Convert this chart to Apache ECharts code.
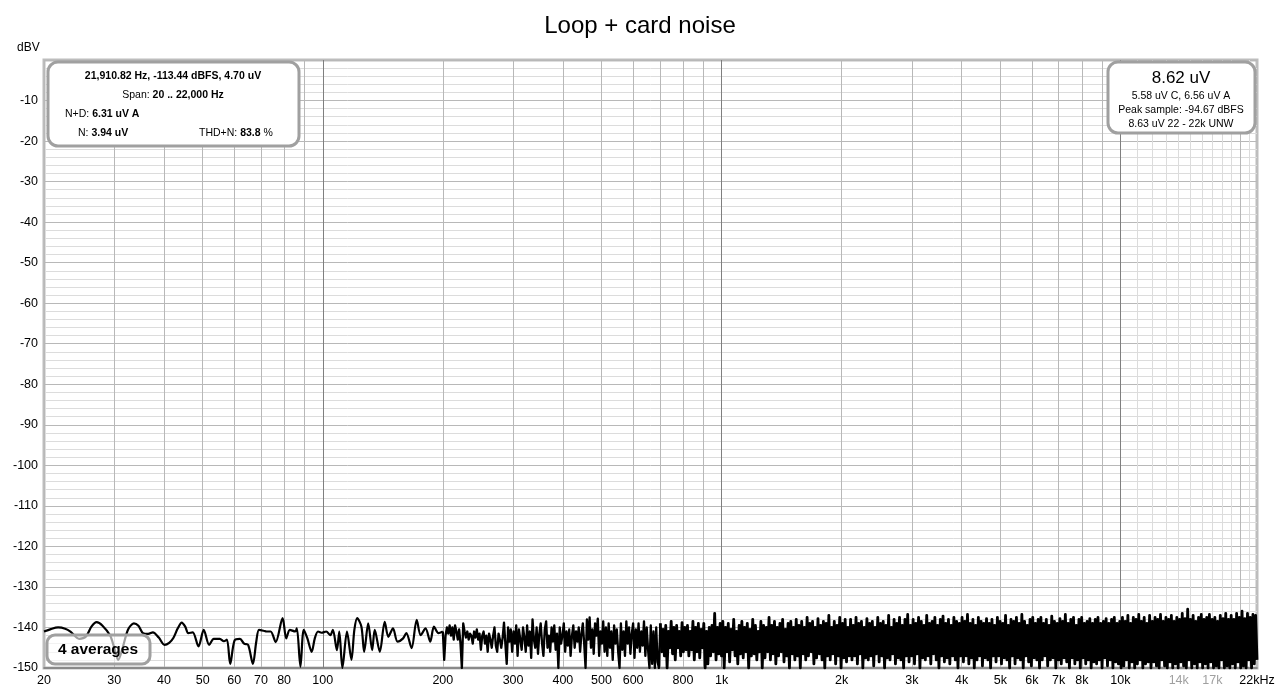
<!DOCTYPE html>
<html><head><meta charset="utf-8">
<script src="https://cdn.jsdelivr.net/npm/echarts@6/dist/echarts.min.js"></script>
<style>html,body{margin:0;padding:0;background:#fff}#c{width:1280px;height:692px}</style>
</head><body><div id="c"></div>
<script>
// ---------- data ----------
const chartTitle = 'Loop + card noise';
const yUnit = 'dBV';
const yMin = -150, yMax = 0, yStep = 10;
const xMinHz = 20, xMaxHz = 22000;

// low-frequency part of the trace: frequency (Hz) and level (dBV)
const lowFreqs = [20, 20.8, 21.7, 22.6, 23.3, 24.5, 25.5, 26.3, 27.1, 28.0, 29.3, 30.0, 30.7, 31.5, 32.5, 33.6, 34.5, 35.4, 36.5, 37.5,
  38.8, 40.1, 41.2, 42.2, 43.3, 44.3, 45.2, 46.0, 47.2, 48.8, 50.3, 51.9, 53.3, 55.2, 56.5, 57.5, 58.6, 60.1, 62.0, 63.5,
  65.0, 66.8, 68.1, 69.2, 71.0, 72.3, 74.0, 76.2, 79.3, 81.0, 82.7, 85.3, 86.1, 87.9, 89.6, 91.5, 93.8, 95.5, 97.3, 99.3,
  102, 104.5, 106, 108.5, 110, 112, 115, 118, 120, 122, 125, 127, 130, 133, 135, 139, 143, 146, 150, 154,
  159, 162, 167, 172, 176, 181, 186, 190, 195, 200];
const lowLevels = [-141.0, -140.4, -140.0, -140.3, -141.0, -142.8, -142.2, -139.8, -138.7, -139.5, -142.0, -145.0, -148.0, -145.0, -140.5, -139.0, -139.6, -141.4, -141.6, -141.2,
  -142.5, -144.3, -143.8, -142.6, -140.2, -138.8, -139.8, -141.4, -141.2, -144.7, -140.6, -144.3, -142.8, -142.8, -143.4, -143.0, -149.0, -143.2, -142.8, -144.0,
  -144.3, -149.0, -143.6, -140.6, -140.8, -141.0, -141.0, -143.6, -137.7, -142.7, -140.6, -141.0, -140.2, -149.7, -140.6, -142.7, -146.0, -142.7, -141.0, -141.3,
  -141.0, -141.9, -140.6, -145.6, -141.0, -150.0, -141.0, -148.0, -140.6, -137.7, -139.8, -146.0, -139.0, -145.6, -140.6, -146.0, -138.6, -142.3, -140.2, -143.5,
  -142.7, -141.4, -145.1, -138.1, -141.9, -140.2, -143.5, -139.8, -141.4, -141.0];

// dense part of the trace, 200 Hz .. 22 kHz, points evenly spaced on the log-frequency axis (dBV)
const denseStartHz = 200, denseEndHz = 22000;
const denseLevels = [
  -141, -148, -142, -140, -141.5, -139.5, -142, -140, -143, -139.5, -141, -143, -140.5, -144, -150, -139, -141, -142.5, -141, -143,
  -141.5, -142, -144, -141, -142.5, -140.5, -143, -141.5, -145.5, -142, -141, -144, -142, -146, -141.5, -143, -145, -142, -140, -144.5,
  -146, -141.5, -143, -145, -142.5, -138.8, -144, -149, -140, -143.5, -140.5, -146, -141, -144, -139.5, -147, -140.5, -143, -145.5, -140,
  -142.5, -146, -139.5, -144.5, -141, -147.5, -138, -143, -145, -140, -146.5, -141.5, -139, -144, -147, -140.5, -138.5, -145, -142, -146,
  -140, -143.5, -139.5, -145.5, -141.5, -150, -140, -144, -142, -139, -146, -141, -144.5, -140.5, -147, -142, -139.5, -145, -141, -143.5,
  -140, -146, -141.5, -139, -144, -150, -138, -143, -137.5, -145, -140.5, -146.5, -139, -142, -137.8, -147, -141, -144, -138.5, -146,
  -140, -147, -139, -145, -141, -148, -139.5, -144, -140.5, -146, -150, -139, -145.5, -141, -147, -138.5, -144, -140, -146.5, -141.5,
  -139, -147.5, -140.5, -145, -139, -146, -141, -144.5, -138.5, -147, -140, -145.5, -150, -139.5, -149, -141, -150, -140, -148.5, -150,
  -139, -146, -140.5, -147, -139.5, -150, -141, -145, -138.5, -146.5, -140, -148, -139.5, -145, -141, -147, -138.8, -146, -140, -145.5,
  -139.5, -147, -141, -145.5, -138.5, -148, -140, -146, -139, -147.5, -140.5, -145, -139, -150, -141, -149, -140, -147, -139.5, -146,
  -136.5, -148, -140, -146.5, -139, -147, -138.5, -150, -140, -146, -139, -148.5, -140.5, -145.5, -138, -147, -141, -149, -139.5, -146.5,
  -138.5, -147.5, -140, -146, -139, -150, -140.5, -147, -138, -146.5, -139.5, -148, -141, -146, -138.5, -150, -139.5, -147.5, -140, -146,
  -137.5, -148, -139.5, -146.5, -138.5, -149, -140, -147, -139, -146, -138, -148.5, -140.5, -147, -139, -150, -138.5, -146.5, -140, -148,
  -138, -147, -139.5, -150, -138.5, -146.5, -140, -148, -137.5, -147, -139, -146, -138.5, -149, -140, -147.5, -137.8, -146.5, -139.5, -148,
  -138.5, -150, -139, -147, -137, -148, -140, -146.5, -138.5, -149, -139.5, -147, -137.5, -150, -139, -147.5, -138, -148.5, -140, -147,
  -138, -148, -139.5, -147, -137.5, -149, -139, -146.5, -138.5, -150, -140, -147.5, -137.8, -148, -139, -147, -138.5, -149.5, -140, -146.5,
  -137.5, -148.5, -139, -147, -138.5, -150, -139.5, -147.5, -137, -148, -140, -146.5, -138, -149, -139, -147.5, -137.5, -148, -139.5, -150,
  -138, -147, -136.8, -148.5, -139.5, -147, -138, -149, -139, -146.5, -137.5, -150, -138.5, -147.5, -139.5, -148, -137, -147, -139, -149,
  -138.5, -146.5, -137.5, -148, -139.5, -150, -138, -147, -137.2, -148.5, -139, -147.5, -138, -149, -139.5, -147, -137.5, -148, -138.5, -150,
  -139, -147, -137.5, -148.5, -138.5, -147, -136.8, -149, -139, -147.5, -138, -150, -139.5, -148, -137.5, -147, -138.5, -149.5, -139, -147.5,
  -137.8, -148, -139, -150, -138, -147, -139.5, -148.5, -137.5, -147, -138.5, -149, -139, -147.5, -137, -148, -139.5, -150, -138, -147,
  -138.5, -149, -137.5, -147.5, -139, -148, -136.8, -150, -138.5, -147, -139.5, -148.5, -138, -149.5, -137.5, -147.5, -139, -148, -138, -150,
  -137.5, -148, -139, -147, -138, -149.5, -139.5, -148, -137.2, -147.5, -138.5, -150, -139, -148, -137.8, -149, -138.5, -147.5, -136.8, -148.5,
  -139, -150, -138, -147.5, -137.5, -149, -139.5, -148, -138, -150, -137.5, -147.5, -139, -149, -138.5, -148, -137.8, -150, -139, -148.5,
  -138, -149, -137.5, -148, -139, -150, -138.5, -147.5, -137.8, -149.5, -139, -148, -138, -150, -137.5, -148.5, -139, -149, -138.5, -150,
  -137.5, -149.5, -138.5, -148, -137, -150, -139, -148.5, -137.5, -150, -138, -149, -136.8, -148, -138.5, -150, -137.5, -149, -139, -148.5,
  -137, -150, -138.5, -148.5, -137.5, -149.5, -138, -150, -136.8, -148, -138.5, -149.5, -137.5, -150, -138, -148.5, -137, -150, -138.5, -149,
  -137.5, -150, -138, -148.5, -136.5, -149.5, -137.8, -150, -135.5, -148, -138, -150, -137, -149, -138.5, -150, -137.5, -148.5, -136.8, -150,
  -138, -149, -137.5, -150, -136.8, -148.5, -138, -150, -137.5, -149.5, -138.5, -150, -137, -148, -137.8, -150, -136.5, -149.5, -138, -150,
  -137, -149, -138, -150, -136.5, -148.5, -137.5, -150, -136, -149.5, -137.8, -150, -136.5, -148, -137.5, -150, -136.8, -149, -137, -148
];

// x axis labels
const xLabelValues = [20, 30, 40, 50, 60, 70, 80, 100, 200, 300, 400, 500, 600, 800, 1000, 2000, 3000, 4000, 5000, 6000, 7000, 8000, 10000, 14000, 17000, 22000];
const xLabelTexts = ['20', '30', '40', '50', '60', '70', '80', '100', '200', '300', '400', '500', '600', '800', '1k', '2k', '3k', '4k', '5k', '6k', '7k', '8k', '10k', '14k', '17k', '22kHz'];
const xLabelGray = ['14k', '17k'];

// vertical grid lines
const gridDecadeHz = [100, 1000, 10000];
const gridMediumHz = [20, 30, 40, 50, 60, 70, 80, 90, 200, 300, 400, 500, 600, 700, 800, 900, 2000, 3000, 4000, 5000, 6000, 7000, 8000, 9000, 20000];
const gridFineHz = [11000, 12000, 13000, 14000, 15000, 16000, 17000, 18000, 19000, 21000];

// info box texts
const cursorText = '21,910.82 Hz, -113.44 dBFS, 4.70 uV';
const spanLabel = 'Span: ', spanValue = '20 .. 22,000 Hz';
const ndLabel = 'N+D: ', ndValue = '6.31 uV A';
const nLabel = 'N: ', nValue = '3.94 uV';
const thdLabel = 'THD+N: ', thdValue = '83.8', thdUnit = ' %';
const rmsMain = '8.62 uV';
const rmsLines = ['5.58 uV C, 6.56 uV A', 'Peak sample: -94.67 dBFS', '8.63 uV 22 - 22k UNW'];
const averagesText = '4 averages';

// ---------- build ----------
const FONT = '"Liberation Sans", Arial, Helvetica, sans-serif';
const lowData = lowFreqs.map((f, i) => [f, lowLevels[i]]);
const nDense = denseLevels.length;
const denseData = denseLevels.map((v, i) => [denseStartHz * Math.pow(denseEndHz / denseStartHz, i / (nDense - 1)), v]);
const splitHz = 700;
const splitIdx = denseData.findIndex(p => p[0] >= splitHz);
const denseMid = denseData.slice(0, splitIdx + 1);
const denseHigh = denseData.slice(splitIdx);

function xAxisLayer(opts) {
  return Object.assign({
    type: 'log', logBase: 10, min: xMinHz, max: xMaxHz, gridIndex: 0, position: 'bottom',
    axisLine: { show: false }, axisLabel: { show: false }, axisTick: { show: false },
    splitLine: { show: false }
  }, opts);
}
const richSmall = {
  n: { fontSize: 10.5, fontFamily: FONT, color: '#000' },
  b: { fontSize: 10.5, fontWeight: 'bold', fontFamily: FONT, color: '#000' }
};

const chart = echarts.init(document.getElementById('c'), null, { renderer: 'canvas' });
const option = {
  animation: false,
  backgroundColor: '#fff',
  textStyle: { fontFamily: FONT },
  title: {
    text: chartTitle, left: 'center', top: 9,
    textStyle: { fontFamily: FONT, fontSize: 24, fontWeight: 'normal', color: '#000' }
  },
  grid: { left: 44, right: 23, top: 60, bottom: 24, show: true, borderColor: '#bdbdbd', borderWidth: 3, backgroundColor: '#fff' },
  xAxis: [
    xAxisLayer({
      z: 3,
      axisLine: { show: true, onZero: false, lineStyle: { color: '#7a7a7a', width: 1.5 } },
      axisTick: { show: false, customValues: gridMediumHz },
      splitLine: { show: true, lineStyle: { color: '#b8b8b8', width: 1 } },
      axisLabel: {
        show: true, customValues: xLabelValues, margin: 6, fontSize: 12.5, color: '#000', fontFamily: FONT,
        formatter: function (v) {
          let idx = 0, best = Infinity;
          xLabelValues.forEach((t, i) => { const d = Math.abs(Math.log(t) - Math.log(v)); if (d < best) { best = d; idx = i; } });
          const s = xLabelTexts[idx];
          return xLabelGray.indexOf(s) >= 0 ? '{g|' + s + '}' : s;
        },
        rich: { g: { color: '#a0a0a0', fontSize: 12.5, fontFamily: FONT } }
      }
    }),
    xAxisLayer({ z: 4, axisTick: { show: false, customValues: gridDecadeHz }, splitLine: { show: true, lineStyle: { color: '#7f7f7f', width: 1 } } }),
    xAxisLayer({ z: 2, axisTick: { show: false, customValues: gridFineHz }, splitLine: { show: true, lineStyle: { color: '#dcdcdc', width: 1 } } })
  ],
  yAxis: {
    type: 'value', min: yMin, max: yMax, interval: yStep,
    axisLine: { show: false }, axisTick: { show: false },
    axisLabel: { margin: 6, fontSize: 12.5, color: '#000', fontFamily: FONT, formatter: v => (v === 0 ? '' : String(v)) },
    splitLine: { show: true, lineStyle: { color: '#b8b8b8', width: 1 } },
    minorTick: { show: false, splitNumber: 5 },
    minorSplitLine: { show: true, lineStyle: { color: '#dcdcdc', width: 1 } }
  },
  series: [
    { type: 'line', xAxisIndex: 0, data: lowData, smooth: 0.3, symbol: 'none', lineStyle: { color: '#000', width: 2.2 }, z: 5 },
    { type: 'line', xAxisIndex: 0, data: denseMid, smooth: false, symbol: 'none', lineStyle: { color: '#000', width: 2.3, join: 'round' }, z: 5 },
    { type: 'line', xAxisIndex: 0, data: denseHigh, smooth: false, symbol: 'none', lineStyle: { color: '#000', width: 2.8, join: 'round' }, z: 5 }
  ],
  graphic: [
    { type: 'text', left: 17, top: 42, z: 100, style: { text: yUnit, font: '12px ' + FONT, fill: '#000' } },
    // top-left info box
    { type: 'rect', z: 100, shape: { x: 48, y: 62, width: 251, height: 84, r: 10 }, style: { fill: '#fff', stroke: '#a0a0a0', lineWidth: 3 } },
    { type: 'text', z: 101, x: 173, y: 76, style: { text: cursorText, font: 'bold 10.5px ' + FONT, fill: '#000', align: 'center', verticalAlign: 'middle' } },
    { type: 'text', z: 101, x: 173, y: 95, style: { text: '{n|' + spanLabel + '}{b|' + spanValue + '}', align: 'center', verticalAlign: 'middle', rich: richSmall } },
    { type: 'text', z: 101, x: 65, y: 114, style: { text: '{n|' + ndLabel + '}{b|' + ndValue + '}', align: 'left', verticalAlign: 'middle', rich: richSmall } },
    { type: 'text', z: 101, x: 78, y: 133, style: { text: '{n|' + nLabel + '}{b|' + nValue + '}', align: 'left', verticalAlign: 'middle', rich: richSmall } },
    { type: 'text', z: 101, x: 199, y: 133, style: { text: '{n|' + thdLabel + '}{b|' + thdValue + '}{n|' + thdUnit + '}', align: 'left', verticalAlign: 'middle', rich: richSmall } },
    // top-right RMS box
    { type: 'rect', z: 100, shape: { x: 1108, y: 62, width: 147, height: 71, r: 10 }, style: { fill: '#fff', stroke: '#a0a0a0', lineWidth: 3 } },
    { type: 'text', z: 101, x: 1181, y: 78, style: { text: rmsMain, font: '17px ' + FONT, fill: '#000', align: 'center', verticalAlign: 'middle' } },
    { type: 'text', z: 101, x: 1181, y: 96, style: { text: rmsLines[0], font: '10.5px ' + FONT, fill: '#000', align: 'center', verticalAlign: 'middle' } },
    { type: 'text', z: 101, x: 1181, y: 110, style: { text: rmsLines[1], font: '10.5px ' + FONT, fill: '#000', align: 'center', verticalAlign: 'middle' } },
    { type: 'text', z: 101, x: 1181, y: 124, style: { text: rmsLines[2], font: '10.5px ' + FONT, fill: '#000', align: 'center', verticalAlign: 'middle' } },
    // averages box
    { type: 'rect', z: 100, shape: { x: 47, y: 635, width: 103, height: 29, r: 8 }, style: { fill: 'rgba(255,255,255,0.62)', stroke: '#a0a0a0', lineWidth: 3 } },
    { type: 'text', z: 101, x: 98, y: 650, style: { text: averagesText, font: 'bold 15.5px ' + FONT, fill: '#000', align: 'center', verticalAlign: 'middle' } }
  ]
};
chart.setOption(option);
</script>
</body></html>
